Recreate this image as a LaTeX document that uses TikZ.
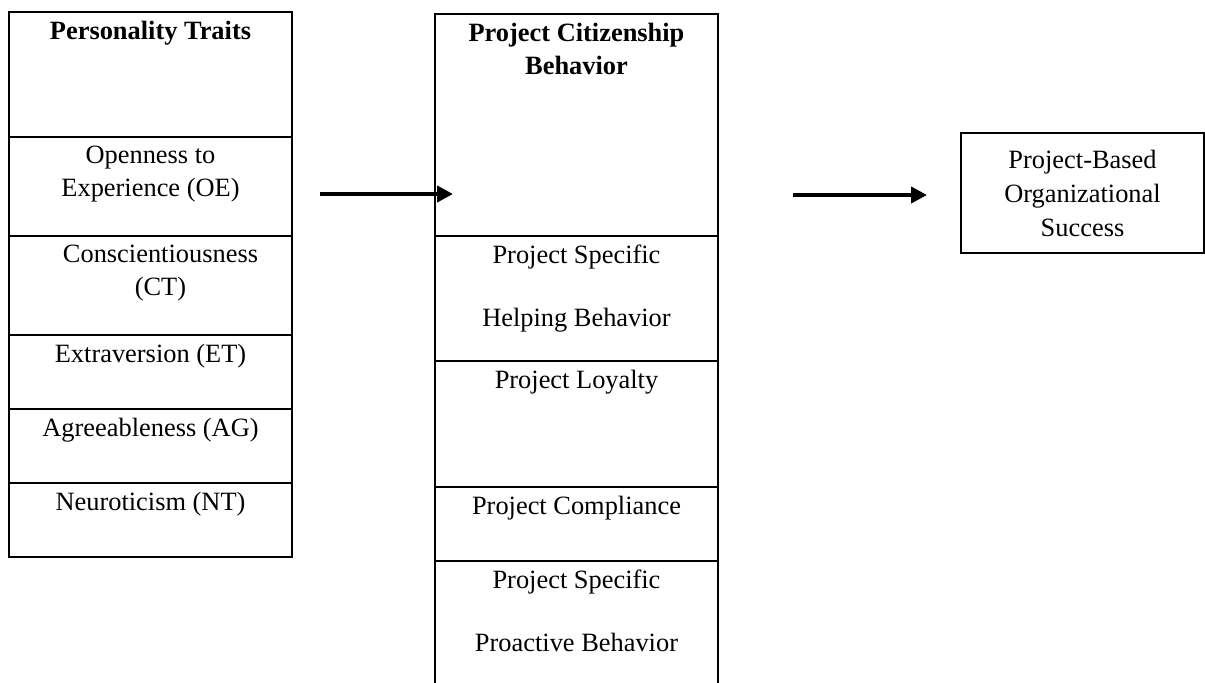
\documentclass[tikz,border=0pt]{standalone}
\usepackage{fontspec}
\setmainfont{Liberation Serif}
\usetikzlibrary{positioning,arrows.meta}

\begin{document}
\begin{tikzpicture}[
            x=0.5pt, y=-0.5pt,
            every node/.style={inner sep=0pt, outer sep=0pt},
            cell/.style={draw, line width=1pt, minimum width=141.5pt},
            celltext/.style={anchor=north, align=center, yshift=-4.5pt,
                font=\fontsize{13.2}{16.5}\selectfont},
            node distance=0pt,
            link/.style={line width=2.25pt, -{Triangle[length=8pt,width=8pt]}}]

            \useasboundingbox (0,0) rectangle (1205,682);
            \clip (0,0) rectangle (1205,682);

            % personality traits column
            \node[cell, minimum height=62.5pt, anchor=north west] (pt0) at (9,12) {};
            \node[cell, minimum height=49.5pt, below=of pt0] (pt1) {};
            \node[cell, minimum height=49.5pt, below=of pt1] (pt2) {};
            \node[cell, minimum height=37pt, below=of pt2] (pt3) {};
            \node[cell, minimum height=37pt, below=of pt3] (pt4) {};
            \node[cell, minimum height=37pt, below=of pt4] (pt5) {};

            \node[celltext] (tpt0) at (pt0.north) {\textbf{Personality Traits}};
            \node[celltext] (tpt1) at (pt1.north) {Openness to\\Experience (OE)};
            \node[celltext, xshift=5pt] (tpt2) at (pt2.north) {Conscientiousness\\(CT)};
            \node[celltext] (tpt3) at (pt3.north) {Extraversion (ET)};
            \node[celltext] (tpt4) at (pt4.north) {Agreeableness (AG)};
            \node[celltext] (tpt5) at (pt5.north) {Neuroticism (NT)};

            % project citizenship behavior column
            \node[cell, minimum height=111pt, anchor=north west] (pc0) at (435,14) {};
            \node[cell, minimum height=62.5pt, below=of pc0] (pc1) {};
            \node[cell, minimum height=63pt, below=of pc1] (pc2) {};
            \node[cell, minimum height=37pt, below=of pc2] (pc3) {};
            \node[cell, minimum height=65pt, below=of pc3] (pc4) {};

            \node[celltext] (tpc0) at (pc0.north) {\textbf{Project Citizenship}\\\textbf{Behavior}};
            \node[celltext] (tpc1) at (pc1.north) {Project Specific\\[15pt]Helping Behavior};
            \node[celltext] (tpc2) at (pc2.north) {Project Loyalty};
            \node[celltext] (tpc3) at (pc3.north) {Project Compliance};
            \node[celltext] (tpc4) at (pc4.north) {Project Specific\\[15pt]Proactive Behavior};

            % outcome
            \node[draw, line width=1pt, minimum width=121.5pt, minimum height=60pt,
                align=center, font=\fontsize{13.2}{17}\selectfont] (pbos) at (1082.5,193)
                {Project-Based\\Organizational\\Success};

            \coordinate (a1s) at (320,194);
            \coordinate (a1e) at (453,194);
            \coordinate (a2s) at (793,195);
            \coordinate (a2e) at (927,195);
            \draw[link] (a1s) -- (a1e);
            \draw[link] (a2s) -- (a2e);
        \end{tikzpicture}
\end{document}
